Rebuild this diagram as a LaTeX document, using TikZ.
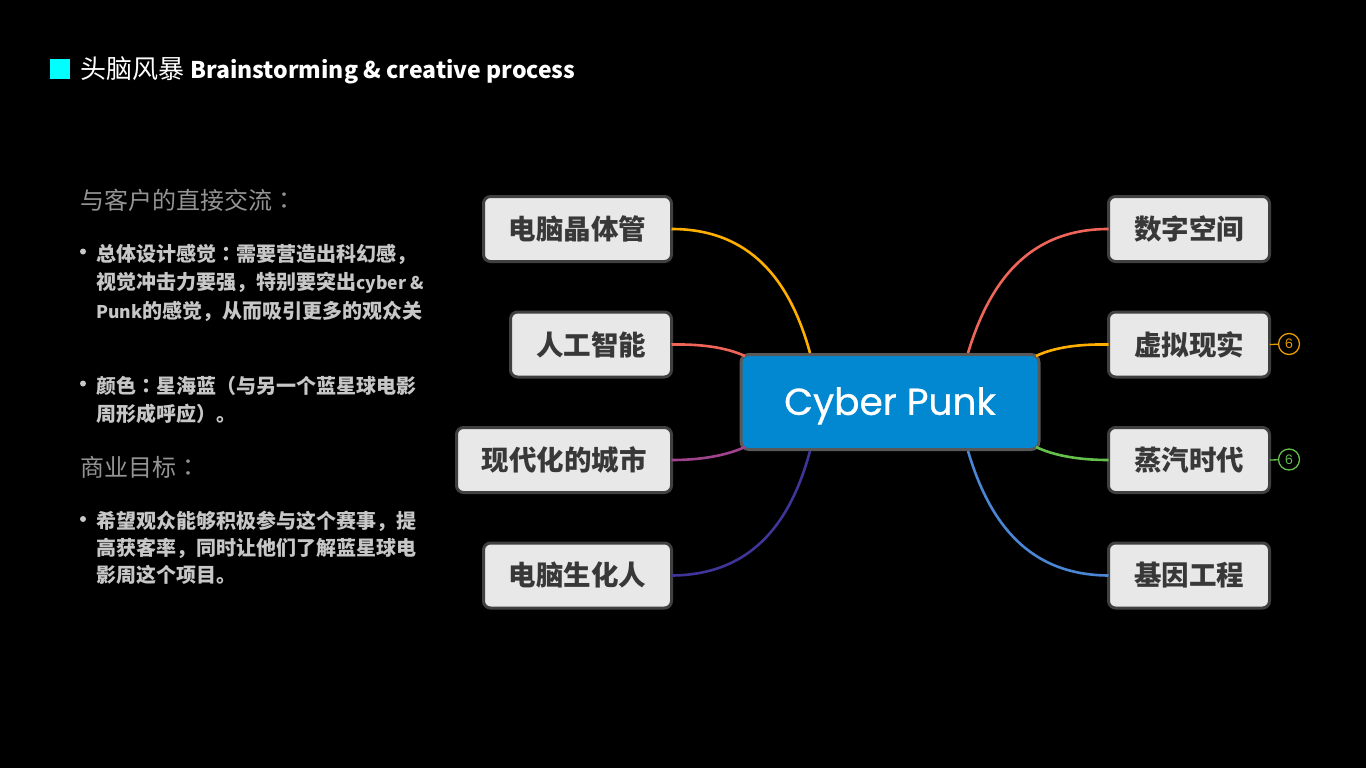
\documentclass[tikz,border=0pt]{standalone}
\usepackage{fontspec}
\setmainfont{Noto Sans CJK SC}
\newfontfamily\latinfont{Poppins}
\newfontfamily\cyberfont[FakeBold=0.6]{Poppins}
\newfontfamily\colonfont{Noto Sans CJK TC}
\newcommand{\cjkcolon}{{\colonfont ：}}
\newcommand{\latsmall}[1]{{\fontsize{17.5}{17.5}\selectfont #1}}
\usetikzlibrary{calc}

\definecolor{markcyan}{HTML}{00FFFF}
\definecolor{cyberblue}{HTML}{0288D1}
\definecolor{orangeline}{HTML}{FFAF00}
\definecolor{redline}{HTML}{F0655A}
\definecolor{purpleline}{HTML}{A0438C}
\definecolor{indigoline}{HTML}{3F3599}
\definecolor{greenline}{HTML}{65BF4B}
\definecolor{blueline}{HTML}{4A86D4}

\tikzset{
  topic/.style={draw=black!75, line width=3pt, fill=black!9, rounded corners=7pt, minimum height=65pt, inner sep=0pt, text=black!78, font=\fontsize{27.5}{27.5}\selectfont\bfseries},
  branch/.style={line width=2.6pt},
  badge/.style={circle, draw=#1, line width=1.3pt, minimum size=21pt, inner sep=0pt, text=#1, font=\fontsize{13}{13}\selectfont\latinfont},
  head/.style={anchor=base west, inner sep=0pt, text=black!42, font=\fontsize{24}{24}\selectfont},
  body/.style={anchor=base west, inner sep=0pt, text=black!22, font=\fontsize{20}{20}\selectfont\bfseries},
  dot/.style={circle, fill=black!22, minimum size=6pt, inner sep=0pt}
}

\begin{document}
\begin{tikzpicture}[x=1pt, y=-1pt, outer sep=0pt]
\useasboundingbox [fill=black] (0, 0) rectangle (1366, 768);

% title
\node at (60, 69) (MARK) [fill=markcyan, minimum size=20pt, inner sep=0pt] {};
\node at (80.5, 78.5) (TITLE) [anchor=base west, inner sep=0pt, text=white, font=\fontsize{26}{26}\selectfont] {头脑风暴 {\fontsize{23}{23}\selectfont\bfseries Brainstorming \& creative process}};

% text on the left
\node at (80.5, 209) (HEAD_A) [head] {与客户的直接交流\cjkcolon};
\node at (83, 251.5) (DOT_A) [dot] {};
\node at (96.3, 261.7) (LINE_A1) [body] {总体设计感觉\cjkcolon 需要营造出科幻感，};
\node at (96.3, 289.7) (LINE_A2) [body] {视觉冲击力要强，特别要突出\latsmall{cyber \&}};
\node at (96.3, 318.7) (LINE_A3) [body] {\latsmall{Punk}的感觉，从而吸引更多的观众关};
\node at (83, 383.5) (DOT_B) [dot] {};
\node at (96.3, 393.7) (LINE_B1) [body] {颜色\cjkcolon 星海蓝（与另一个蓝星球电影};
\node at (96.3, 421.7) (LINE_B2) [body] {周形成呼应）。};
\node at (80.5, 476) (HEAD_B) [head] {商业目标\cjkcolon};
\node at (83, 519) (DOT_C) [dot] {};
\node at (96.3, 528.7) (LINE_C1) [body] {希望观众能够积极参与这个赛事，提};
\node at (96.3, 555.7) (LINE_C2) [body] {高获客率，同时让他们了解蓝星球电};
\node at (96.3, 582.7) (LINE_C3) [body] {影周这个项目。};

% mind map
\node at (890, 402) (CYBER) [draw=black!65, line width=3pt, fill=cyberblue, rounded corners=8pt, minimum width=298pt, minimum height=95pt, inner sep=0pt, text=white, text depth=2pt, font=\fontsize{37.5}{37.5}\selectfont\cyberfont] {Cyber Punk};
\node at (577.5, 229) (CHIP) [topic, minimum width=188pt] {电脑晶体管};
\node at (591, 344.5) (AI) [topic, minimum width=161pt] {人工智能};
\node at (564, 460) (CITY) [topic, minimum width=215pt] {现代化的城市};
\node at (577.5, 575.5) (CYBORG) [topic, minimum width=188pt] {电脑生化人};
\node at (1189, 229) (DIGITAL) [topic, minimum width=161pt] {数字空间};
\node at (1189, 344.5) (VIRTUAL) [topic, minimum width=161pt] {虚拟现实};
\node at (1189, 460) (STEAM) [topic, minimum width=161pt] {蒸汽时代};
\node at (1189, 575.5) (GENE) [topic, minimum width=161pt] {基因工程};
\node at (1289, 344) (BADGE_V) [badge=orangeline!90!black] {6};
\node at (1289, 459.5) (BADGE_S) [badge=greenline] {6};

\coordinate (CY_TL) at (810, 353);
\coordinate (CY_LU) at (745, 356);
\coordinate (CY_LD) at (745, 447);
\coordinate (CY_BL) at (810, 451);
\coordinate (CY_TR) at (968, 353);
\coordinate (CY_RU) at (1036, 356);
\coordinate (CY_RD) at (1036, 447);
\coordinate (CY_BR) at (968, 451);

\draw [branch, orangeline] (CHIP.east) .. controls (750, 229) and (790, 280) .. (CY_TL);
\draw [branch, redline] (AI.east) .. controls (700, 344) and (725, 347) .. (CY_LU);
\draw [branch, purpleline] (CITY.east) .. controls (700, 460) and (725, 456) .. (CY_LD);
\draw [branch, indigoline] (CYBORG.east) .. controls (750, 575) and (790, 525) .. (CY_BL);
\draw [branch, redline] (DIGITAL.west) .. controls (1030, 229) and (990, 280) .. (CY_TR);
\draw [branch, orangeline] (VIRTUAL.west) .. controls (1080, 344) and (1055, 347) .. (CY_RU);
\draw [branch, greenline] (STEAM.west) .. controls (1080, 460) and (1055, 456) .. (CY_RD);
\draw [branch, blueline] (GENE.west) .. controls (1030, 575) and (990, 525) .. (CY_BR);
\draw [line width=1.3pt, orangeline!90!black] (VIRTUAL.east) -- (BADGE_V);
\draw [line width=1.3pt, greenline] (STEAM.east) -- (BADGE_S);
\end{tikzpicture}
\end{document}
